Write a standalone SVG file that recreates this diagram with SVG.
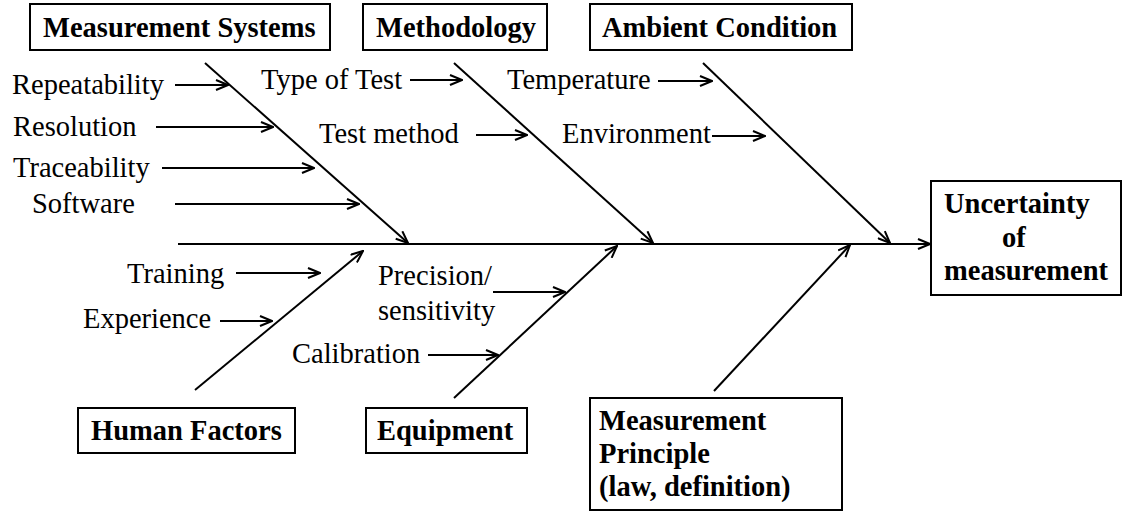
<svg xmlns="http://www.w3.org/2000/svg" width="1126" height="512" viewBox="0 0 1126 512">
  <style>
    .box { fill: #ffffff; stroke: #000000; stroke-width: 2; }
    .title { font-family: 'Liberation Serif', 'DejaVu Serif', serif; font-weight: bold; font-size: 28.5px; fill: #000000; }
    .cause { font-family: 'Liberation Serif', 'DejaVu Serif', serif; font-size: 28.5px; fill: #000000; }
    .bone { stroke: #000000; stroke-width: 2; fill: none; marker-end: url(#arrow); }
  </style>
  <defs>
    <marker id="arrow" viewBox="0 0 14 12" refX="13" refY="6" markerWidth="14" markerHeight="12" markerUnits="userSpaceOnUse" orient="auto">
      <path d="M1,1 L13,6 L1,11" fill="none" stroke="#000000" stroke-width="2"/>
    </marker>
  </defs>
  <rect width="1126" height="512" fill="#ffffff"/>

  <!-- spine, main bones and cause arrows -->
  <g id="connectors">
    <line class="bone" x1="178" y1="244" x2="930" y2="244"/>
    <line class="bone" x1="205" y1="63" x2="408" y2="243"/>
    <line class="bone" x1="454" y1="63" x2="653" y2="243"/>
    <line class="bone" x1="703" y1="63" x2="890" y2="243"/>
    <line class="bone" x1="195" y1="390" x2="363" y2="251"/>
    <line class="bone" x1="454" y1="398" x2="617" y2="246"/>
    <line class="bone" x1="714" y1="391" x2="850" y2="245"/>

    <line class="bone" x1="175" y1="85" x2="228" y2="85"/>
    <line class="bone" x1="156" y1="127" x2="273" y2="127"/>
    <line class="bone" x1="162" y1="168" x2="314" y2="168"/>
    <line class="bone" x1="175" y1="204" x2="359" y2="204"/>
    <line class="bone" x1="410" y1="80" x2="462" y2="80"/>
    <line class="bone" x1="476" y1="135" x2="527" y2="135"/>
    <line class="bone" x1="658" y1="81" x2="712" y2="81"/>
    <line class="bone" x1="712" y1="136" x2="765" y2="136"/>
    <line class="bone" x1="236" y1="273" x2="320" y2="273"/>
    <line class="bone" x1="220" y1="321" x2="272" y2="321"/>
    <line class="bone" x1="493" y1="292" x2="565" y2="292"/>
    <line class="bone" x1="428" y1="355" x2="498" y2="355"/>
  </g>

  <!-- category boxes -->
  <g id="measurement-systems">
    <rect class="box" x="30" y="4" width="300" height="46"/>
    <text class="title" x="43" y="37">Measurement Systems</text>
  </g>
  <g id="methodology">
    <rect class="box" x="363" y="4" width="184" height="46"/>
    <text class="title" x="376" y="37">Methodology</text>
  </g>
  <g id="ambient-condition">
    <rect class="box" x="590" y="4" width="262" height="46"/>
    <text class="title" x="602" y="37">Ambient Condition</text>
  </g>
  <g id="human-factors">
    <rect class="box" x="78" y="408" width="217" height="45"/>
    <text class="title" x="91" y="440">Human Factors</text>
  </g>
  <g id="equipment">
    <rect class="box" x="366" y="408" width="161" height="45"/>
    <text class="title" x="377" y="440">Equipment</text>
  </g>
  <g id="measurement-principle">
    <rect class="box" x="590" y="398" width="252" height="112"/>
    <text class="title" x="599" y="430">Measurement</text>
    <text class="title" x="599" y="463">Principle</text>
    <text class="title" x="599" y="496">(law, definition)</text>
  </g>
  <g id="uncertainty">
    <rect class="box" x="931" y="181" width="190" height="114"/>
    <text class="title" x="944" y="213">Uncertainty</text>
    <text class="title" x="1002" y="247">of</text>
    <text class="title" x="944" y="280">measurement</text>
  </g>

  <!-- cause labels -->
  <g id="causes">
    <text class="cause" x="12" y="94">Repeatability</text>
    <text class="cause" x="13" y="136">Resolution</text>
    <text class="cause" x="13" y="177">Traceability</text>
    <text class="cause" x="32" y="213">Software</text>
    <text class="cause" x="261" y="89">Type of Test</text>
    <text class="cause" x="319" y="143">Test method</text>
    <text class="cause" x="507" y="89">Temperature</text>
    <text class="cause" x="562" y="143">Environment</text>
    <text class="cause" x="127" y="283">Training</text>
    <text class="cause" x="83" y="328">Experience</text>
    <text class="cause" x="378" y="285">Precision/</text>
    <text class="cause" x="378" y="320">sensitivity</text>
    <text class="cause" x="292" y="363">Calibration</text>
  </g>
</svg>
